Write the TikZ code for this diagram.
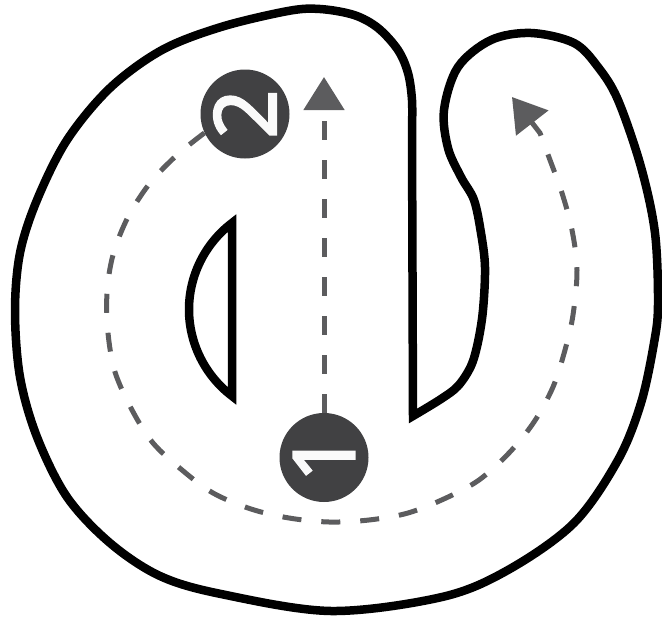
\documentclass[tikz,border=0pt]{standalone}
\usepackage{graphicx}
\usepackage{fontspec}
\newfontfamily\numfont[FakeBold=2.4]{Noto Sans}
\usetikzlibrary{arrows.meta}
\definecolor{badgegray}{HTML}{414143}
\definecolor{routegray}{HTML}{5C5C5E}
\begin{document}
\begin{tikzpicture}[x=1pt,y=-1pt,
  outline/.style={line width=8.5pt,line join=miter,draw=black},
  routeline/.style={line width=5pt,draw=routegray,dash pattern=on 19pt off 20pt,
    -{Triangle[width=40pt,length=33pt,fill=routegray]}},
  badge/.style={circle,fill=badgegray,minimum size=89pt,inner sep=0pt,text=white!98!black,
    font=\numfont\fontsize{86}{86}\selectfont}]
\useasboundingbox (0,0) rectangle (662,621);
% outer shape
\draw[outline] plot[smooth,tension=0.55] coordinates {
 (413,416) (441,399) (458,386) (471,366) (478,342) (483,310) (485,267) (481,233)
 (474,200) (461,177) (448,148) (444,110) (458,67) (491,40) (531,33) (574,43)
 (598,67) (618,100) (641,167) (655,233) (658,305) (654,343) (641,403) (618,460)
 (574,523) (508,570) (442,597) (331,611) (221,594) (160,576) (110,543) (67,497)
 (37,437) (20,377) (15,311) (20,253) (37,200) (67,140) (110,88) (162,50)
 (221,27) (288,11) (320,9) (354,15) (378,28) (398,50) (408,73)
 (412,100) (412,130)} -- cycle;
% inner D-shaped hole
\draw[outline] (232,223) .. controls (205,243.5) and (189,275.6) .. (189,309.5)
  .. controls (189,343.4) and (205,375.5) .. (232,396) -- cycle;
% badges
\node[badge] (c1) at (324,457.5) {\rotatebox{90}{1}};
\node[badge] (c2) at (245,114) {\rotatebox{90}{2}};
\coordinate (tipA) at (324,77);
\coordinate (tipB) at (512,97);
% routes
\draw[routeline] (c1.north) -- (tipA);
\draw[routeline] plot[smooth,tension=0.55] coordinates {
 (c2.205) (177,155) (150,183) (128,217) (113,255) (107,293) (108,333) (115,372)
 (132,410) (153,443) (182,470) (213,493) (251,509) (289,518) (329,522) (369,520)
 (408,513) (446,498) (479,480) (509,453) (534,422) (553,387) (565,350) (573,315)
 (577,270) (572,230) (562,193) (550,160) (540,133)} -- (tipB);
\end{tikzpicture}
\end{document}
